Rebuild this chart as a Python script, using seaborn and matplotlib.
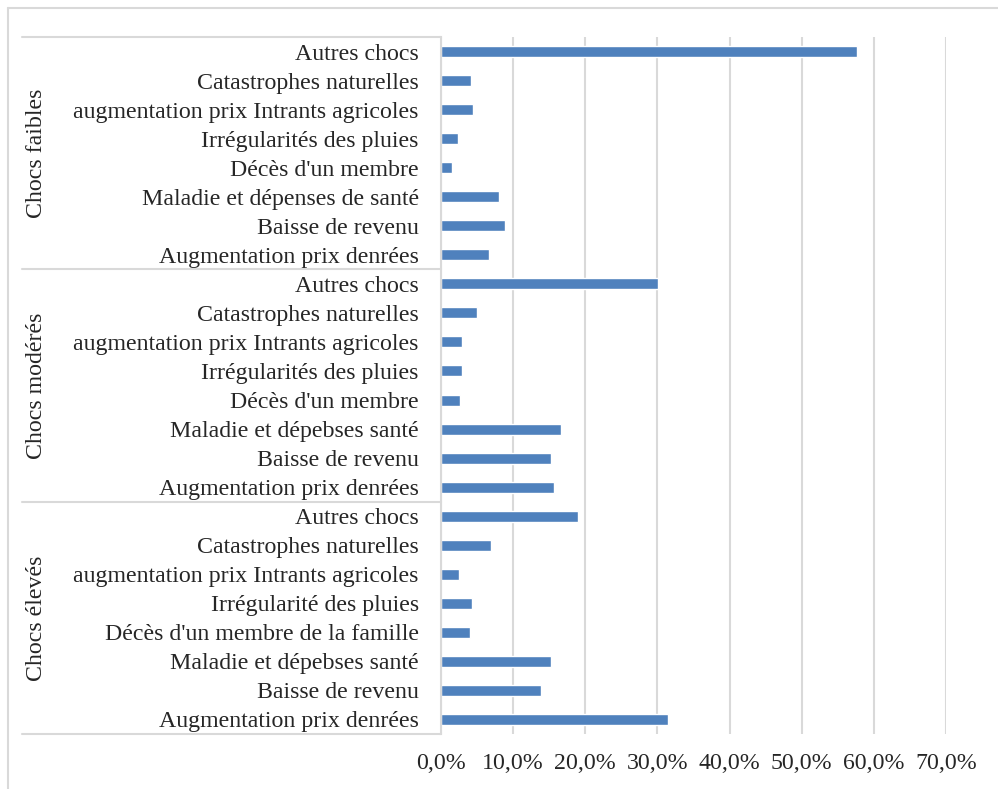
import numpy as np
import pandas as pd
import matplotlib.pyplot as plt
import matplotlib.transforms as mtransforms
from matplotlib.lines import Line2D
from matplotlib.ticker import FuncFormatter
import seaborn as sns

# ---- data (top to bottom within each group) ----
groups = ["Chocs faibles", "Chocs modérés", "Chocs élevés"]

labels_faibles = [
    "Autres chocs", "Catastrophes naturelles", "augmentation prix Intrants agricoles",
    "Irrégularités des pluies", "Décès d'un membre", "Maladie et dépenses de santé",
    "Baisse de revenu", "Augmentation prix denrées",
]
labels_moderes = [
    "Autres chocs", "Catastrophes naturelles", "augmentation prix Intrants agricoles",
    "Irrégularités des pluies", "Décès d'un membre", "Maladie et dépebses santé",
    "Baisse de revenu", "Augmentation prix denrées",
]
labels_eleves = [
    "Autres chocs", "Catastrophes naturelles", "augmentation prix Intrants agricoles",
    "Irrégularité des pluies", "Décès d'un membre de la famille", "Maladie et dépebses santé",
    "Baisse de revenu", "Augmentation prix denrées",
]

values_faibles = [0.576, 0.042, 0.044, 0.023, 0.015, 0.080, 0.089, 0.066]
values_moderes = [0.301, 0.050, 0.029, 0.029, 0.026, 0.166, 0.152, 0.156]
values_eleves = [0.190, 0.069, 0.025, 0.043, 0.040, 0.152, 0.138, 0.315]

xticks = [0.0, 0.1, 0.2, 0.3, 0.4, 0.5, 0.6, 0.7]

# ---- build long table ----
rows = []
for g, labs, vals in zip(groups,
                         [labels_faibles, labels_moderes, labels_eleves],
                         [values_faibles, values_moderes, values_eleves]):
    for lab, v in zip(labs, vals):
        rows.append({"groupe": g, "choc": lab, "key": f"{g}|{lab}", "valeur": v})
df = pd.DataFrame(rows)

# ---- plot ----
sns.set_style("white")
plt.rcParams["font.family"] = ["Liberation Serif", "DejaVu Serif"]
fs = 17.2

fig = plt.figure(figsize=(9.98, 7.89), dpi=100)
W, H = 998, 789
ax = fig.add_axes([441 / W, 1 - 734 / H, (946 - 441) / W, (734 - 37) / H])

sns.barplot(data=df, y="key", x="valeur", order=list(df["key"]),
            color="#4F81BD", saturation=1, width=0.38, orient="h", ax=ax)

ax.set_xlim(0, 0.7)
ax.set_ylim(23.5, -0.5)
ax.set_xticks(xticks)
ax.xaxis.set_major_formatter(FuncFormatter(lambda v, p: f"{v*100:.1f}%".replace(".", ",")))
ax.set_yticks(range(len(df)))
ax.set_yticklabels(df["choc"])
ax.tick_params(axis="x", length=0, pad=14, labelsize=fs)
ax.tick_params(axis="y", length=0, pad=16, labelsize=fs)
ax.set_xlabel("")
ax.set_ylabel("")

ax.grid(axis="x", color="#D9D9D9", linewidth=1.5)
ax.set_axisbelow(True)
for s in ["top", "right", "bottom"]:
    ax.spines[s].set_visible(False)
ax.spines["left"].set_color("#D9D9D9")
ax.spines["left"].set_linewidth(1.5)

# group separators and group labels
trans = mtransforms.blended_transform_factory(ax.transAxes, ax.transData)
x0 = (22 - 441) / (946 - 441)
for yb in [-0.5, 7.5, 15.5, 23.5]:
    ax.add_line(Line2D([x0, 0], [yb, yb], transform=trans, color="#D9D9D9",
                       linewidth=1.5, clip_on=False))
xg = (37 - 441) / (946 - 441)
for i, g in enumerate(groups):
    ax.text(xg, i * 8 + 3.5, g, transform=trans, rotation=90, ha="center",
            va="center", fontsize=fs)

# outer chart frame
fig.add_artist(Line2D([8 / W, 8 / W], [0, 1 - 8 / H], transform=fig.transFigure,
                      color="#D9D9D9", linewidth=1.5))
fig.add_artist(Line2D([8 / W, 1], [1 - 8 / H, 1 - 8 / H], transform=fig.transFigure,
                      color="#D9D9D9", linewidth=1.5))

fig.savefig("out.png", dpi=100)
